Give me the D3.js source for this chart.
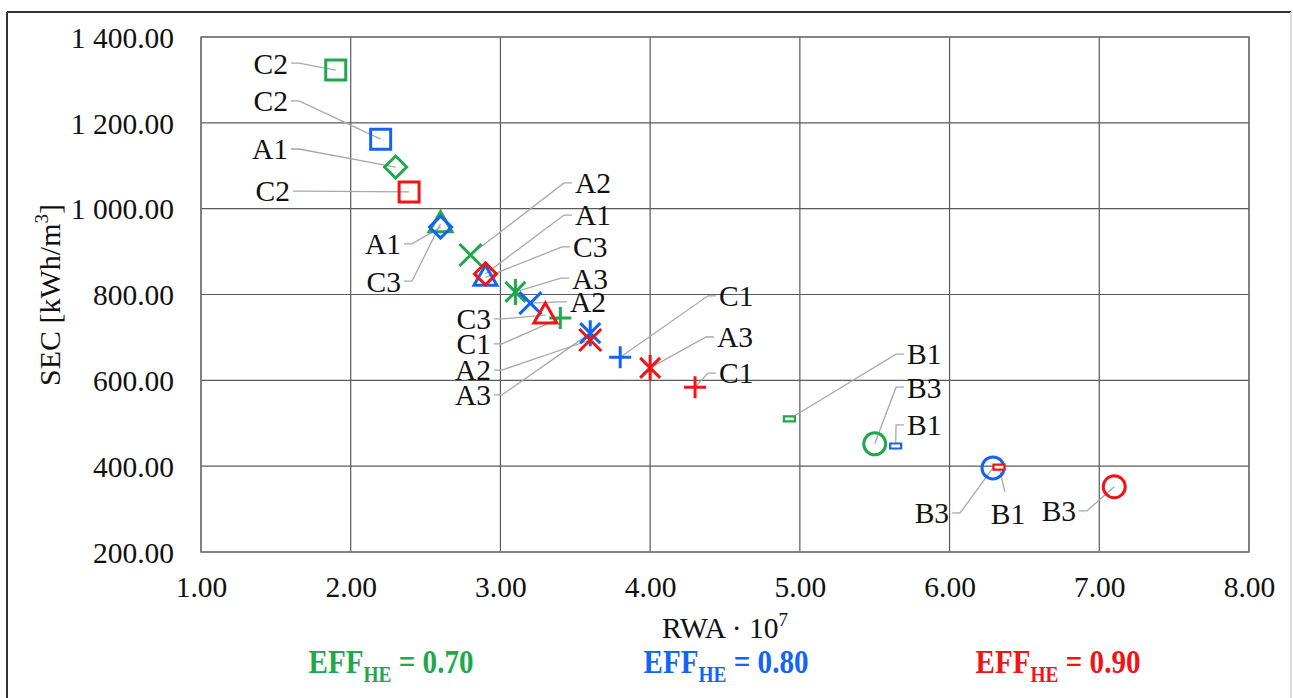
<!DOCTYPE html>
<html>
<head>
<meta charset="utf-8">
<script src="https://cdn.jsdelivr.net/npm/d3@7"></script>
<style>
  html, body { margin: 0; padding: 0; background: #fff; }
  svg { display: block; }
  text { font-family: "Liberation Serif", "Times New Roman", serif; }
</style>
</head>
<body>
<svg id="chart" width="1293" height="698"></svg>
<script>
// ---------------- DATA ----------------
const seriesNames = ["EFF_HE = 0.70", "EFF_HE = 0.80", "EFF_HE = 0.90"];
const effValues = ["0.70", "0.80", "0.90"];
const variants = ["C2", "A1", "C3", "A2", "A3", "C1", "B1", "B3"];
const markerShapes = ["square", "diamond", "triangle", "x", "star", "plus", "dash", "circle"];

// RWA·10^7 values per series (same order as variants)
const rwa070 = [1.90, 2.30, 2.60, 2.80, 3.10, 3.40, 4.93, 5.50];
const rwa080 = [2.20, 2.60, 2.90, 3.20, 3.60, 3.80, 5.64, 6.29];
const rwa090 = [2.39, 2.90, 3.30, 3.60, 4.00, 4.30, 6.33, 7.10];
// SEC [kWh/m3] values per series
const sec070 = [1323, 1097, 965, 892, 806, 745, 510, 452];
const sec080 = [1162, 957, 840, 780, 710, 654, 447, 396];
const sec090 = [1039, 848, 752, 694, 629, 584, 398, 352];

const xTicks = [1, 2, 3, 4, 5, 6, 7, 8];
const yTicks = [200, 400, 600, 800, 1000, 1200, 1400];

// Data-label annotations: series index, variant index, leader start (data units), side of text
const labelSeries = [0, 1, 0, 2, 1, 0, 2, 0, 2, 1, 0, 2, 1, 0, 1, 1, 2, 2, 0, 0, 1, 1, 2, 2];
const labelVariant = [0, 0, 1, 0, 1, 2, 2, 5, 3, 4, 3, 1, 2, 4, 3, 5, 4, 5, 6, 7, 6, 7, 6, 7];
const labelX = [1.601, 1.601, 1.601, 1.614, 2.356, 2.356, 2.957, 2.957, 2.957, 2.957,
                3.478, 3.478, 3.465, 3.458, 3.445, 4.440, 4.427, 4.440, 5.696, 5.696, 5.696, 6.017, 6.370, 6.865];
const labelY = [1339, 1251, 1139, 1041, 918, 831, 743, 685, 624, 566,
                1060, 985, 911, 838, 783, 797, 701, 617, 661, 584, 496, 291, 340, 296];
const labelSide = ["L","L","L","L","L","L","L","L","L","L",
                   "R","R","R","R","R","R","R","R","R","R","R","L","B","L"];

// ---------------- LAYOUT ----------------
const svg = d3.select("#chart");
const colors = ["#1fa84c", "#1464f4", "#f21414"];
const plot = { left: 201, right: 1249, top: 37, bottom: 552 };
const FS = 29.5;

const x = d3.scaleLinear().domain([1, 8]).range([plot.left, plot.right]);
const y = d3.scaleLinear().domain([200, 1400]).range([plot.bottom, plot.top]);

const rwa = [rwa070, rwa080, rwa090];
const sec = [sec070, sec080, sec090];

// outer frame
svg.append("line").attr("x1", 7).attr("x2", 1291).attr("y1", 12).attr("y2", 12)
  .attr("stroke", "#333").attr("stroke-width", 2);
svg.append("line").attr("x1", 7).attr("x2", 7).attr("y1", 12).attr("y2", 698)
  .attr("stroke", "#333").attr("stroke-width", 2);
svg.append("line").attr("x1", 1291).attr("x2", 1291).attr("y1", 12).attr("y2", 698)
  .attr("stroke", "#d0d0d0").attr("stroke-width", 1.5);

// grid
const grid = svg.append("g");
grid.selectAll("line.v").data(xTicks).join("line")
  .attr("x1", d => x(d)).attr("x2", d => x(d))
  .attr("y1", plot.top).attr("y2", plot.bottom)
  .attr("stroke", "#5a5a5a").attr("stroke-width", 1.2);
grid.selectAll("line.h").data(yTicks).join("line")
  .attr("x1", plot.left).attr("x2", plot.right)
  .attr("y1", d => y(d)).attr("y2", d => y(d))
  .attr("stroke", "#5a5a5a").attr("stroke-width", 1.2);
svg.append("rect").attr("x", plot.left).attr("y", plot.top)
  .attr("width", plot.right - plot.left).attr("height", plot.bottom - plot.top)
  .attr("fill", "none").attr("stroke", "#777").attr("stroke-width", 1.5);

// axes (labels only)
const fmtY = v => {
  const s = v.toFixed(2);
  const [ip, dp] = s.split(".");
  return ip.replace(/\B(?=(\d{3})+(?!\d))/g, " ") + "." + dp;
};
const yAxis = d3.axisLeft(y).tickValues(yTicks).tickFormat(fmtY).tickSize(0).tickPadding(27);
const gy = svg.append("g").attr("transform", `translate(${plot.left},0)`).call(yAxis);
gy.select(".domain").remove();
gy.selectAll("text").attr("font-size", FS).attr("fill", "#111")
  .attr("font-family", "Liberation Serif").attr("dy", "0.35em");

const xAxis = d3.axisBottom(x).tickValues(xTicks).tickFormat(d => d.toFixed(2)).tickSize(0).tickPadding(24);
const gx = svg.append("g").attr("transform", `translate(0,${plot.bottom})`).call(xAxis);
gx.select(".domain").remove();
gx.selectAll("text").attr("font-size", FS).attr("fill", "#111")
  .attr("font-family", "Liberation Serif");

// axis titles
const xt = svg.append("text").attr("x", 725).attr("y", 638).attr("text-anchor", "middle")
  .attr("font-size", FS).attr("fill", "#111");
xt.append("tspan").text("RWA \u00b7 10");
xt.append("tspan").attr("font-size", 19).attr("dy", -12).text("7");

const yt = svg.append("text").attr("transform", "translate(60,295) rotate(-90)")
  .attr("text-anchor", "middle").attr("font-size", 30).attr("fill", "#111");
yt.append("tspan").text("SEC [kWh/m");
yt.append("tspan").attr("font-size", 19).attr("dy", -12).text("3");
yt.append("tspan").attr("dy", 12).text("]");

// leader lines & labels
const ann = svg.append("g");
labelSeries.forEach((s, i) => {
  const v = labelVariant[i];
  const px = x(rwa[s][v]), py = y(sec[s][v]);
  const lx = x(labelX[i]), ly = y(labelY[i]);
  const side = labelSide[i];
  let pts;
  if (side === "L") pts = [[lx, ly], [lx + 8, ly], [px, py]];
  else if (side === "R") pts = [[lx, ly], [lx - 8, ly], [px, py]];
  else pts = [[lx, ly], [px, py]];
  ann.append("path").attr("d", d3.line()(pts))
    .attr("fill", "none").attr("stroke", "#a8a8a8").attr("stroke-width", 1.3);
  const t = ann.append("text").attr("font-size", FS).attr("fill", "#111")
    .attr("dy", "0.35em").text(variants[v]);
  if (side === "L") t.attr("x", lx - 3).attr("y", ly).attr("text-anchor", "end");
  else if (side === "R") t.attr("x", lx + 3).attr("y", ly).attr("text-anchor", "start");
  else t.attr("x", lx + 3).attr("y", ly + 22).attr("text-anchor", "middle");
});

// marker shapes (pixel geometry only)
function shapePath(kind) {
  switch (kind) {
    case "square": return "M-10,-10H10V10H-10Z";
    case "diamond": return "M0,-11L11,0L0,11L-11,0Z";
    case "triangle": return "M0,-12L11.5,8L-11.5,8Z";
    case "x": return "M-11,-11L11,11M-11,11L11,-11";
    case "star": return "M-10,-10L10,10M-10,10L10,-10M0,-13V13";
    case "plus": return "M-11,0H11M0,-11V11";
    case "dash": return "M-5.5,-2.5H5.5V2.5H-5.5Z";
    case "circle": return "M11,0A11,11 0 1,1 -11,0A11,11 0 1,1 11,0Z";
  }
}

const marks = svg.append("g");
[0, 1, 2].forEach(s => {
  variants.forEach((vname, v) => {
    const kind = markerShapes[v];
    marks.append("path")
      .attr("transform", `translate(${x(rwa[s][v])},${y(sec[s][v])})`)
      .attr("d", shapePath(kind))
      .attr("fill", kind === "dash" ? "#fff" : "none")
      .attr("stroke", colors[s])
      .attr("stroke-width", kind === "dash" ? 2.2 : 3);
  });
});

// legend
const legendX = [391, 726, 1058];
seriesNames.forEach((name, i) => {
  const g = svg.append("g").attr("transform", `translate(${legendX[i]},673) scale(0.97,1.12)`);
  const t = g.append("text").attr("x", 0).attr("y", 0)
    .attr("text-anchor", "middle").attr("font-weight", "bold")
    .attr("font-size", 30).attr("fill", colors[i]);
  t.append("tspan").text("EFF");
  t.append("tspan").attr("font-size", 20).attr("dy", 8).text("HE");
  t.append("tspan").attr("dy", -8).text(" = " + effValues[i]);
});
</script>
</body>
</html>
